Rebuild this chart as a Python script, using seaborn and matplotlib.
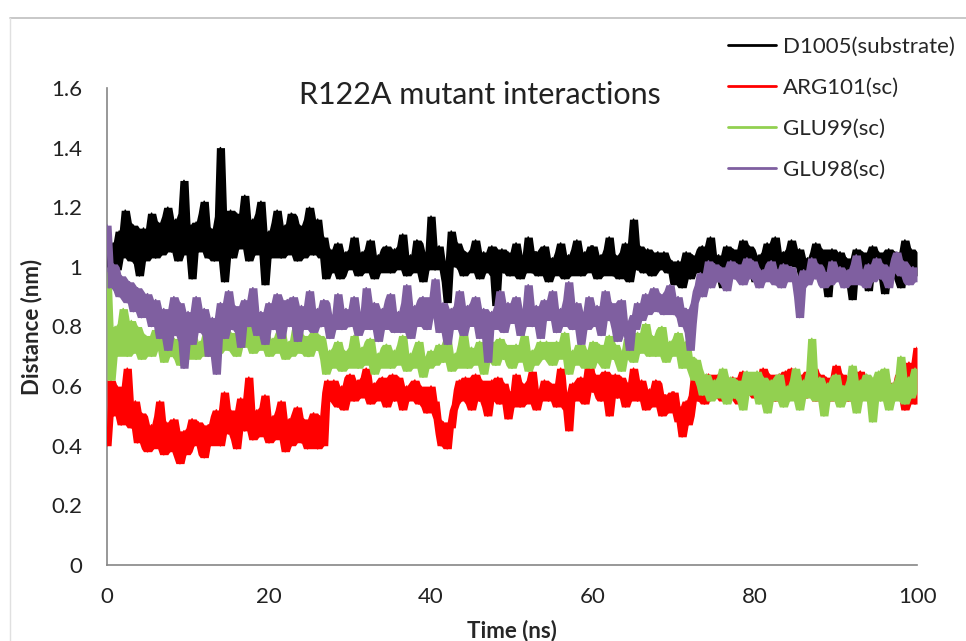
import numpy as np
import pandas as pd
import matplotlib
matplotlib.use("Agg")
import matplotlib.pyplot as plt
import seaborn as sns
from matplotlib.lines import Line2D
from matplotlib.ticker import FuncFormatter

# ---- data (0.25 ns sampling, one row = 5 ns) ----
series_names = ["D1005(substrate)", "ARG101(sc)", "GLU99(sc)", "GLU98(sc)"]
series_colors = ["#000000", "#FF0000", "#92D050", "#7F5FA0"]

d1005 = [
    1.00, 1.05, 0.96, 1.08, 1.04, 0.99, 1.12, 1.03, 1.05, 1.19, 1.15, 1.04, 1.02, 1.14, 1.10, 1.01, 0.97, 1.08, 1.13, 1.02,
    1.06, 1.12, 1.18, 1.07, 1.03, 1.15, 1.14, 1.04, 1.08, 1.17, 1.20, 1.06, 1.05, 1.13, 1.16, 1.02, 1.09, 1.18, 1.29, 1.08,
    1.04, 1.14, 0.96, 1.08, 1.15, 1.05, 1.07, 1.18, 1.22, 1.06, 1.03, 1.13, 1.12, 1.02, 1.06, 1.17, 1.40, 1.10, 0.95, 1.07,
    1.10, 1.19, 1.03, 1.12, 1.18, 1.06, 1.08, 1.16, 1.24, 1.09, 1.02, 1.13, 1.16, 1.04, 1.07, 1.18, 1.22, 1.05, 0.94, 1.09,
    1.12, 1.03, 1.05, 1.15, 1.19, 1.07, 1.03, 1.12, 1.14, 1.04, 1.08, 1.18, 1.17, 1.05, 1.02, 1.14, 1.13, 1.03, 1.06, 1.16,
    1.20, 1.07, 1.04, 1.14, 1.16, 1.05, 1.03, 1.10, 0.96, 1.02, 1.06, 0.98, 0.99, 1.05, 1.08, 0.96, 0.97, 1.04, 1.05, 0.99,
    1.00, 1.06, 1.10, 0.99, 0.97, 1.03, 1.05, 0.98, 1.01, 1.06, 1.09, 1.00, 0.96, 1.02, 1.04, 0.98, 1.00, 1.06, 1.07, 0.99,
    0.98, 1.03, 1.06, 0.99, 1.01, 1.07, 1.11, 1.02, 0.97, 1.03, 1.04, 0.98, 1.00, 1.09, 1.08, 1.00, 0.95, 1.02, 1.05, 0.99,
    1.17, 1.04, 0.99, 1.06, 1.07, 1.00, 1.02, 0.95, 0.88, 1.01, 1.12, 1.03, 1.00, 1.08, 1.06, 0.99, 0.97, 1.05, 1.04, 0.98,
    1.01, 1.06, 1.09, 1.00, 0.96, 1.03, 1.05, 0.98, 0.99, 1.04, 1.07, 0.97, 0.87, 0.99, 1.03, 1.06, 0.98, 1.03, 1.05, 0.97,
    1.00, 1.05, 1.08, 0.99, 0.96, 1.02, 1.04, 0.98, 1.10, 1.03, 0.98, 1.05, 1.05, 0.97, 1.01, 1.06, 1.07, 1.00, 0.95, 1.02,
    1.03, 0.97, 0.98, 1.05, 1.08, 1.00, 0.96, 1.03, 1.04, 0.97, 1.00, 1.06, 1.09, 1.01, 0.97, 1.04, 1.05, 0.98, 1.01, 1.07,
    1.07, 1.00, 0.96, 1.03, 1.04, 0.97, 0.99, 1.06, 1.10, 1.01, 0.97, 1.04, 1.03, 0.96, 1.00, 1.05, 1.08, 0.99, 0.95, 1.02,
    1.16, 1.03, 0.99, 1.07, 1.06, 0.98, 1.01, 1.06, 1.04, 0.97, 0.98, 1.04, 1.05, 0.99, 1.00, 1.05, 1.03, 0.98, 0.99, 1.02,
    0.94, 1.00, 1.02, 0.95, 0.93, 0.99, 1.05, 0.97, 0.96, 1.04, 1.03, 0.98, 0.99, 1.06, 1.07, 1.00, 0.97, 1.05, 1.10, 1.02,
    0.98, 1.03, 1.04, 0.96, 0.93, 1.02, 1.07, 0.99, 0.99, 1.06, 1.05, 0.97, 0.96, 1.03, 1.09, 1.00, 1.01, 1.07, 1.06, 0.98,
    0.95, 1.02, 1.04, 0.97, 0.99, 1.05, 1.08, 1.01, 1.02, 1.07, 1.10, 1.00, 0.97, 1.04, 1.05, 0.98, 1.01, 1.06, 1.09, 1.02,
    1.00, 1.05, 1.06, 0.97, 0.94, 1.02, 1.03, 0.96, 0.98, 1.05, 1.08, 1.01, 1.00, 1.06, 1.04, 0.95, 0.90, 1.01, 1.06, 0.98,
    0.98, 1.04, 1.05, 0.97, 0.95, 1.03, 1.02, 0.94, 0.89, 1.00, 1.06, 0.98, 1.00, 1.05, 1.04, 0.96, 0.92, 1.01, 1.07, 0.99,
    0.99, 1.05, 1.03, 0.96, 0.91, 1.00, 1.06, 0.98, 0.97, 1.05, 1.04, 0.95, 0.93, 1.03, 1.09, 1.00, 0.98, 1.06, 1.02, 0.97,
    1.05,
]

arg101 = [
    0.40, 0.55, 0.62, 0.50, 0.52, 0.60, 0.57, 0.47, 0.48, 0.58, 0.66, 0.49, 0.46, 0.53, 0.55, 0.41, 0.42, 0.51, 0.50, 0.39,
    0.38, 0.45, 0.47, 0.39, 0.41, 0.50, 0.55, 0.43, 0.37, 0.48, 0.46, 0.38, 0.40, 0.49, 0.44, 0.36, 0.34, 0.42, 0.45, 0.37,
    0.38, 0.46, 0.49, 0.40, 0.41, 0.48, 0.44, 0.37, 0.36, 0.45, 0.47, 0.40, 0.42, 0.50, 0.52, 0.43, 0.40, 0.51, 0.58, 0.45,
    0.44, 0.52, 0.50, 0.42, 0.39, 0.49, 0.56, 0.46, 0.45, 0.54, 0.63, 0.48, 0.42, 0.50, 0.52, 0.43, 0.46, 0.53, 0.57, 0.45,
    0.41, 0.47, 0.50, 0.42, 0.46, 0.52, 0.55, 0.44, 0.38, 0.47, 0.49, 0.40, 0.44, 0.51, 0.53, 0.45, 0.41, 0.49, 0.48, 0.39,
    0.43, 0.49, 0.51, 0.42, 0.39, 0.50, 0.47, 0.40, 0.58, 0.62, 0.55, 0.60, 0.62, 0.54, 0.53, 0.59, 0.60, 0.52, 0.56, 0.63,
    0.64, 0.58, 0.55, 0.61, 0.62, 0.56, 0.58, 0.63, 0.66, 0.57, 0.54, 0.60, 0.61, 0.55, 0.57, 0.62, 0.63, 0.56, 0.53, 0.60,
    0.59, 0.64, 0.55, 0.60, 0.63, 0.57, 0.52, 0.59, 0.60, 0.55, 0.56, 0.61, 0.62, 0.57, 0.54, 0.60, 0.58, 0.53, 0.51, 0.57,
    0.60, 0.53, 0.55, 0.49, 0.44, 0.40, 0.48, 0.43, 0.39, 0.47, 0.46, 0.52, 0.54, 0.59, 0.62, 0.55, 0.56, 0.63, 0.60, 0.54,
    0.52, 0.58, 0.64, 0.56, 0.55, 0.62, 0.59, 0.53, 0.50, 0.57, 0.62, 0.55, 0.57, 0.63, 0.54, 0.60, 0.61, 0.55, 0.49, 0.58,
    0.58, 0.53, 0.64, 0.57, 0.53, 0.61, 0.60, 0.54, 0.56, 0.62, 0.65, 0.57, 0.52, 0.58, 0.59, 0.55, 0.62, 0.57, 0.55, 0.61,
    0.60, 0.56, 0.53, 0.61, 0.66, 0.58, 0.57, 0.52, 0.45, 0.55, 0.61, 0.55, 0.56, 0.62, 0.63, 0.57, 0.54, 0.62, 0.68, 0.59,
    0.58, 0.64, 0.62, 0.56, 0.55, 0.61, 0.65, 0.57, 0.50, 0.56, 0.60, 0.64, 0.56, 0.60, 0.63, 0.57, 0.53, 0.61, 0.59, 0.55,
    0.66, 0.59, 0.55, 0.60, 0.62, 0.56, 0.52, 0.58, 0.59, 0.53, 0.56, 0.62, 0.61, 0.55, 0.50, 0.57, 0.57, 0.51, 0.54, 0.58,
    0.58, 0.52, 0.48, 0.53, 0.43, 0.49, 0.55, 0.47, 0.50, 0.57, 0.63, 0.56, 0.55, 0.61, 0.60, 0.54, 0.57, 0.64, 0.62, 0.56,
    0.58, 0.61, 0.64, 0.57, 0.55, 0.60, 0.62, 0.56, 0.57, 0.63, 0.60, 0.55, 0.54, 0.61, 0.65, 0.58, 0.58, 0.62, 0.63, 0.57,
    0.56, 0.62, 0.61, 0.57, 0.66, 0.60, 0.58, 0.64, 0.63, 0.57, 0.55, 0.61, 0.64, 0.58, 0.60, 0.65, 0.57, 0.61, 0.66, 0.59,
    0.59, 0.64, 0.63, 0.57, 0.56, 0.62, 0.65, 0.58, 0.60, 0.66, 0.55, 0.60, 0.64, 0.57, 0.58, 0.63, 0.62, 0.55, 0.56, 0.61,
    0.67, 0.60, 0.59, 0.64, 0.63, 0.57, 0.55, 0.62, 0.61, 0.56, 0.58, 0.64, 0.65, 0.59, 0.57, 0.62, 0.60, 0.55, 0.54, 0.61,
    0.62, 0.57, 0.58, 0.63, 0.64, 0.58, 0.55, 0.61, 0.60, 0.56, 0.57, 0.64, 0.63, 0.57, 0.52, 0.60, 0.68, 0.62, 0.58, 0.54,
    0.73,
]

glu99 = [
    0.98, 0.76, 0.62, 0.74, 0.80, 0.70, 0.72, 0.81, 0.86, 0.75, 0.70, 0.79, 0.82, 0.71, 0.74, 0.80, 0.78, 0.69, 0.71, 0.77,
    0.76, 0.71, 0.70, 0.77, 0.79, 0.72, 0.73, 0.78, 0.68, 0.74, 0.77, 0.70, 0.70, 0.76, 0.75, 0.69, 0.67, 0.73, 0.74, 0.69,
    0.70, 0.75, 0.78, 0.71, 0.69, 0.74, 0.75, 0.70, 0.72, 0.78, 0.80, 0.73, 0.70, 0.77, 0.76, 0.71, 0.73, 0.78, 0.81, 0.74,
    0.72, 0.78, 0.77, 0.71, 0.70, 0.76, 0.79, 0.73, 0.74, 0.79, 0.82, 0.75, 0.71, 0.76, 0.77, 0.72, 0.73, 0.79, 0.78, 0.72,
    0.70, 0.75, 0.76, 0.71, 0.72, 0.78, 0.79, 0.73, 0.69, 0.74, 0.75, 0.70, 0.73, 0.79, 0.80, 0.74, 0.71, 0.77, 0.76, 0.70,
    0.70, 0.76, 0.78, 0.73, 0.72, 0.77, 0.76, 0.69, 0.64, 0.70, 0.72, 0.66, 0.67, 0.73, 0.75, 0.68, 0.65, 0.72, 0.71, 0.66,
    0.68, 0.73, 0.77, 0.70, 0.66, 0.72, 0.73, 0.67, 0.69, 0.75, 0.76, 0.69, 0.64, 0.70, 0.71, 0.66, 0.68, 0.73, 0.74, 0.68,
    0.66, 0.71, 0.72, 0.67, 0.69, 0.74, 0.77, 0.70, 0.65, 0.70, 0.71, 0.66, 0.68, 0.73, 0.75, 0.68, 0.63, 0.69, 0.70, 0.66,
    0.72, 0.68, 0.67, 0.72, 0.74, 0.69, 0.68, 0.73, 0.76, 0.70, 0.65, 0.69, 0.71, 0.66, 0.69, 0.74, 0.78, 0.71, 0.66, 0.72,
    0.73, 0.67, 0.68, 0.73, 0.75, 0.69, 0.64, 0.69, 0.70, 0.75, 0.73, 0.68, 0.67, 0.72, 0.76, 0.70, 0.69, 0.74, 0.72, 0.67,
    0.66, 0.71, 0.74, 0.68, 0.69, 0.74, 0.77, 0.70, 0.65, 0.70, 0.72, 0.67, 0.68, 0.73, 0.75, 0.69, 0.70, 0.75, 0.73, 0.68,
    0.67, 0.72, 0.75, 0.69, 0.70, 0.75, 0.78, 0.71, 0.64, 0.70, 0.72, 0.67, 0.69, 0.74, 0.74, 0.68, 0.66, 0.72, 0.71, 0.66,
    0.75, 0.70, 0.68, 0.74, 0.73, 0.67, 0.66, 0.72, 0.77, 0.71, 0.69, 0.74, 0.72, 0.67, 0.65, 0.71, 0.70, 0.76, 0.74, 0.69,
    0.68, 0.74, 0.78, 0.71, 0.72, 0.78, 0.81, 0.74, 0.70, 0.77, 0.76, 0.70, 0.73, 0.79, 0.80, 0.72, 0.68, 0.74, 0.75, 0.70,
    0.71, 0.76, 0.78, 0.70, 0.66, 0.73, 0.75, 0.68, 0.70, 0.64, 0.62, 0.69, 0.66, 0.60, 0.57, 0.63, 0.64, 0.58, 0.55, 0.61,
    0.62, 0.56, 0.58, 0.63, 0.66, 0.59, 0.54, 0.60, 0.63, 0.57, 0.56, 0.62, 0.61, 0.55, 0.52, 0.59, 0.65, 0.60, 0.57, 0.62,
    0.60, 0.65, 0.54, 0.59, 0.63, 0.56, 0.51, 0.58, 0.62, 0.55, 0.57, 0.63, 0.64, 0.58, 0.53, 0.59, 0.60, 0.55, 0.56, 0.62,
    0.66, 0.58, 0.52, 0.59, 0.62, 0.56, 0.58, 0.65, 0.76, 0.60, 0.55, 0.61, 0.63, 0.57, 0.50, 0.58, 0.61, 0.55, 0.57, 0.63,
    0.64, 0.58, 0.53, 0.60, 0.60, 0.55, 0.56, 0.62, 0.67, 0.58, 0.51, 0.57, 0.62, 0.55, 0.57, 0.64, 0.63, 0.55, 0.48, 0.58,
    0.60, 0.65, 0.55, 0.61, 0.66, 0.58, 0.52, 0.59, 0.61, 0.55, 0.57, 0.63, 0.70, 0.59, 0.54, 0.62, 0.63, 0.56, 0.58, 0.66,
    0.62,
]

glu98 = [
    1.14, 0.93, 0.95, 1.01, 1.00, 0.92, 0.90, 0.97, 0.96, 0.89, 0.88, 0.95, 0.94, 0.85, 0.86, 0.93, 0.92, 0.83, 0.84, 0.90,
    0.91, 0.84, 0.80, 0.87, 0.89, 0.81, 0.76, 0.83, 0.86, 0.78, 0.72, 0.80, 0.84, 0.90, 0.77, 0.82, 0.88, 0.75, 0.66, 0.79,
    0.85, 0.79, 0.74, 0.83, 0.90, 0.82, 0.78, 0.84, 0.86, 0.77, 0.70, 0.79, 0.83, 0.73, 0.64, 0.78, 0.88, 0.81, 0.76, 0.85,
    0.92, 0.84, 0.79, 0.87, 0.86, 0.78, 0.73, 0.82, 0.89, 0.83, 0.80, 0.88, 0.93, 0.81, 0.77, 0.84, 0.85, 0.78, 0.74, 0.83,
    0.88, 0.82, 0.79, 0.86, 0.91, 0.83, 0.76, 0.82, 0.84, 0.89, 0.80, 0.85, 0.90, 0.81, 0.75, 0.83, 0.87, 0.79, 0.81, 0.86,
    0.92, 0.83, 0.78, 0.85, 0.86, 0.80, 0.80, 0.89, 0.88, 0.81, 0.76, 0.83, 0.84, 0.79, 0.91, 0.84, 0.79, 0.85, 0.86, 0.80,
    0.80, 0.86, 0.90, 0.82, 0.77, 0.84, 0.85, 0.79, 0.93, 0.84, 0.79, 0.86, 0.88, 0.81, 0.75, 0.83, 0.86, 0.79, 0.82, 0.89,
    0.91, 0.83, 0.78, 0.84, 0.85, 0.78, 0.80, 0.88, 0.94, 0.82, 0.76, 0.83, 0.87, 0.80, 0.82, 0.89, 0.90, 0.81, 0.79, 0.86,
    0.85, 0.90, 0.96, 0.83, 0.78, 0.85, 0.88, 0.80, 0.74, 0.82, 0.86, 0.79, 0.80, 0.87, 0.92, 0.82, 0.77, 0.84, 0.87, 0.80,
    0.83, 0.88, 0.90, 0.81, 0.76, 0.84, 0.86, 0.78, 0.68, 0.80, 0.85, 0.79, 0.80, 0.87, 0.92, 0.83, 0.78, 0.85, 0.88, 0.81,
    0.82, 0.87, 0.90, 0.81, 0.77, 0.83, 0.86, 0.80, 0.94, 0.85, 0.80, 0.86, 0.87, 0.81, 0.76, 0.83, 0.89, 0.82, 0.83, 0.88,
    0.92, 0.84, 0.78, 0.83, 0.86, 0.80, 0.81, 0.89, 0.95, 0.84, 0.79, 0.85, 0.88, 0.80, 0.74, 0.81, 0.85, 0.79, 0.90, 0.83,
    0.80, 0.85, 0.87, 0.80, 0.77, 0.84, 0.92, 0.83, 0.82, 0.88, 0.86, 0.79, 0.75, 0.83, 0.89, 0.82, 0.81, 0.77, 0.72, 0.80,
    0.84, 0.79, 0.88, 0.83, 0.82, 0.88, 0.91, 0.84, 0.86, 0.90, 0.93, 0.86, 0.85, 0.91, 0.90, 0.84, 0.87, 0.92, 0.94, 0.88,
    0.84, 0.89, 0.90, 0.83, 0.80, 0.86, 0.86, 0.78, 0.72, 0.81, 0.88, 0.92, 0.94, 0.98, 0.90, 0.96, 0.98, 1.02, 0.93, 0.99,
    1.01, 0.96, 0.95, 1.00, 0.99, 0.94, 0.92, 0.98, 1.02, 0.97, 0.96, 1.01, 1.00, 0.95, 0.94, 0.99, 1.03, 0.96, 0.97, 1.02,
    1.00, 0.95, 0.93, 0.98, 0.99, 0.95, 0.96, 1.01, 1.02, 0.97, 0.94, 0.99, 0.98, 0.93, 1.01, 0.97, 0.95, 1.00, 1.00, 0.96,
    0.97, 0.90, 0.83, 0.93, 0.99, 0.95, 0.94, 0.99, 1.03, 0.97, 0.96, 1.01, 1.00, 0.94, 0.93, 0.98, 0.98, 0.94, 1.02, 0.97,
    0.95, 0.99, 1.00, 0.95, 0.93, 0.97, 0.99, 0.94, 0.96, 1.01, 1.04, 0.97, 0.94, 0.99, 0.98, 0.93, 1.01, 0.97, 0.95, 1.00,
    1.03, 0.97, 0.96, 1.01, 1.00, 0.95, 0.93, 0.98, 0.98, 1.03, 1.05, 0.98, 0.97, 1.02, 1.01, 0.95, 0.94, 0.99, 1.00, 0.95,
    0.96,
]

x_ticks = [0, 20, 40, 60, 80, 100]
y_ticks = [0, 0.2, 0.4, 0.6, 0.8, 1.0, 1.2, 1.4, 1.6]

# ---- build long table ----
frames = []
for name, vals in zip(series_names, [d1005, arg101, glu99, glu98]):
    t = np.linspace(0, 100, len(vals))
    frames.append(pd.DataFrame({"Time": t, "Distance": vals, "Series": name}))
df = pd.concat(frames, ignore_index=True)

sns.set_style("white")
plt.rcParams["font.family"] = ["Lato", "DejaVu Sans"]

fig = plt.figure(figsize=(9.66, 6.41), dpi=100)
ax = fig.add_axes([0.1108, 0.1186, 0.8385, 0.7441])

palette = dict(zip(series_names, series_colors))
# dense-trace look: fill the local min..max span of each trace, then the trace itself
for i, name in enumerate(series_names):
    sub = df[df["Series"] == name]
    lo = sub["Distance"].rolling(5, center=True, min_periods=1).min()
    hi = sub["Distance"].rolling(5, center=True, min_periods=1).max()
    ax.fill_between(sub["Time"], lo, hi, color=palette[name], lw=0, zorder=2 + 2 * i)
    sns.lineplot(data=sub, x="Time", y="Distance", color=palette[name], estimator=None,
                 sort=False, lw=1.2, legend=False, ax=ax, zorder=3 + 2 * i)

ax.set_xlim(0, 100)
ax.set_ylim(0, 1.6)
ax.set_xticks(x_ticks)
ax.set_yticks(y_ticks)
ax.yaxis.set_major_formatter(FuncFormatter(lambda v, p: f"{v:g}"))
ax.tick_params(axis="both", labelsize=16, length=6, width=1, direction="out",
               color="#868686", labelcolor="#222222")
ax.tick_params(axis="x", pad=10)
ax.tick_params(axis="y", pad=12)
for s in ["top", "right"]:
    ax.spines[s].set_visible(False)
for s in ["left", "bottom"]:
    ax.spines[s].set_color("#868686")
    ax.spines[s].set_linewidth(1.2)

ax.set_xlabel("Time (ns)", fontsize=16, fontweight="bold", labelpad=9)
ax.set_ylabel("Distance (nm)", fontsize=16, fontweight="bold", labelpad=6)

ax.text(0.46, 1.015, "R122A mutant interactions", transform=ax.transAxes,
        ha="center", va="top", fontsize=22, color="#222222")

handles = [Line2D([], [], color=c, lw=2) for c in series_colors]
fig.legend(handles, series_names, loc="upper left", bbox_to_anchor=(0.744, 0.957),
           frameon=False, fontsize=16, handlelength=2.2, labelspacing=0.95,
           handletextpad=0.3, borderaxespad=0)

# outer chart frame (light grey)
fig.add_artist(Line2D([0.0104, 1.0], [0.972, 0.972], transform=fig.transFigure,
                      color="#bfbfbf", lw=1.2))
fig.add_artist(Line2D([0.0104, 0.0104], [0.0, 0.972], transform=fig.transFigure,
                      color="#e0e0e0", lw=1.0))

fig.savefig("out.png", dpi=100)
